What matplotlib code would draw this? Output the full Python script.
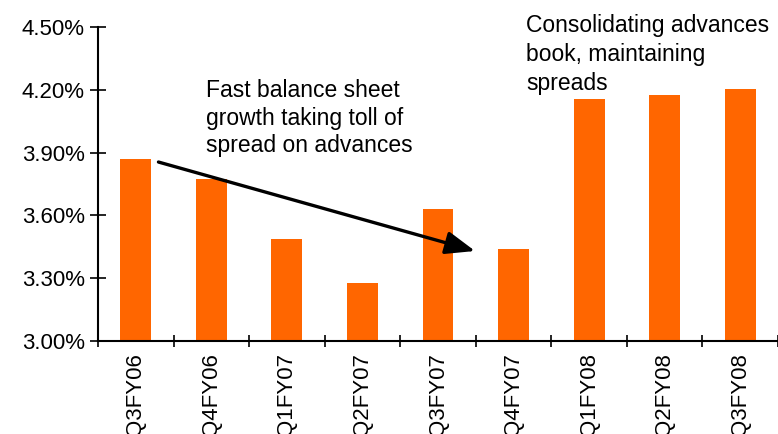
import matplotlib
matplotlib.use("Agg")
import matplotlib.pyplot as plt
import numpy as np
from matplotlib.ticker import FuncFormatter

categories = ["Q3FY06", "Q4FY06", "Q1FY07", "Q2FY07", "Q3FY07",
              "Q4FY07", "Q1FY08", "Q2FY08", "Q3FY08"]
spread = [3.87, 3.775, 3.487, 3.277, 3.631, 3.44, 4.156, 4.175, 4.204]
yticks = [3.00, 3.30, 3.60, 3.90, 4.20, 4.50]

note1 = "Fast balance sheet\ngrowth taking toll of\nspread on advances"
note2 = "Consolidating advances\nbook, maintaining\nspreads"

plt.rcParams['font.family'] = ['Liberation Sans', 'DejaVu Sans']

W, H = 778, 434
fig = plt.figure(figsize=(W / 100, H / 100), dpi=100)
left, right, top, bottom = 98, 778, 27, 341
ax = fig.add_axes([left / W, 1 - bottom / H, (right - left) / W, (bottom - top) / H])

x = np.arange(len(categories))
ax.bar(x, spread, width=0.41, color="#FF6600", zorder=2)

ax.set_xlim(-0.5, len(categories) - 0.5)
ax.set_ylim(3.0, 4.5)
ax.set_yticks(yticks)
ax.yaxis.set_major_formatter(FuncFormatter(lambda v, p: f"{v:.2f}%"))

# category boundaries as major ticks (no labels), labels at centers
ax.set_xticks(np.arange(len(categories) + 1) - 0.5)
ax.set_xticklabels([])
ax.set_xticks(x, minor=True)
ax.set_xticklabels(categories, minor=True, rotation=90, fontsize=16)
ax.tick_params(axis='x', which='minor', length=0, pad=9)
ax.tick_params(axis='x', which='major', direction='inout', length=9, width=1.2)
ax.tick_params(axis='y', direction='inout', length=11, width=1.2, labelsize=16, pad=4)

for s in ['top', 'right']:
    ax.spines[s].set_visible(False)
for s in ['left', 'bottom']:
    ax.spines[s].set_linewidth(1.5)

ax.annotate("", xy=(4.49, 3.43), xytext=(0.30, 3.855),
            arrowprops=dict(arrowstyle="-|>,head_length=1.8,head_width=0.7",
                            color="black", lw=2.4, shrinkA=0, shrinkB=0),
            zorder=3)

# va='baseline' anchors the last line's baseline
fig.text(206 / W, 1 - 152 / H, note1, fontsize=16.5, va='baseline', ha='left',
         linespacing=1.24)
fig.text(526 / W, 1 - 90 / H, note2, fontsize=16.5, va='baseline', ha='left',
         linespacing=1.33)

fig.savefig("out.png", dpi=100)
